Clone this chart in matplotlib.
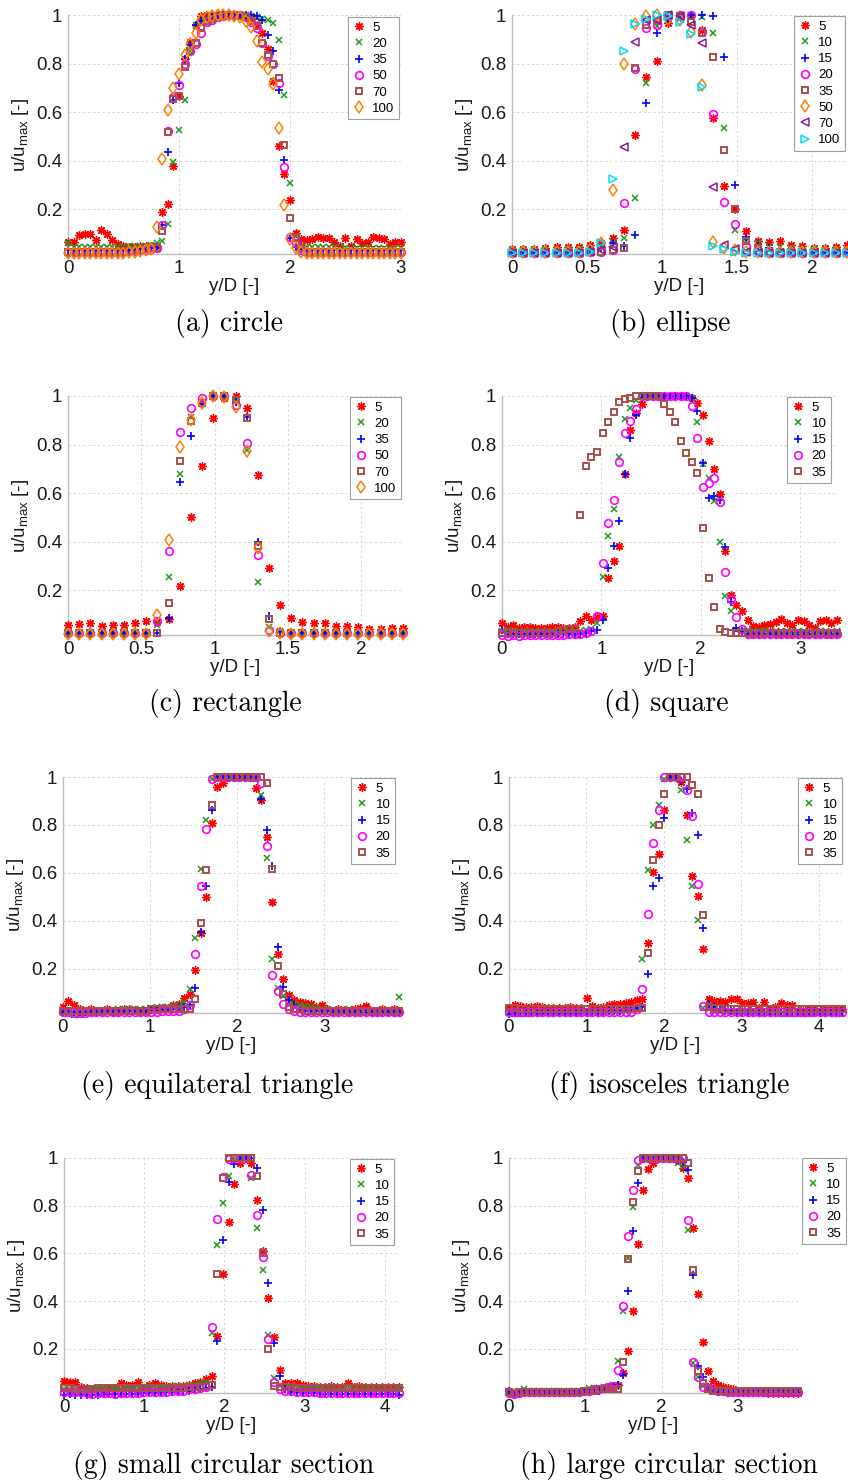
"""Normalised velocity profiles u/u_max across y/D for eight cross-sections."""

import matplotlib
matplotlib.use("Agg")
import matplotlib.pyplot as plt
from matplotlib.ticker import FuncFormatter

plt.rcParams['font.family'] = ['Liberation Sans', 'DejaVu Sans']
plt.rcParams['mathtext.default'] = 'regular'

# ---------------- (a) circle ----------------
circle_x = [0.0, 0.05, 0.1, 0.15, 0.2, 0.25, 0.3, 0.35, 0.4, 0.45, 0.5, 0.55, 0.6, 0.65, 0.7, 0.75,
            0.8, 0.85, 0.9, 0.95, 1.0, 1.05, 1.1, 1.15, 1.2, 1.25, 1.3, 1.35, 1.4, 1.45, 1.5, 1.55,
            1.6, 1.65, 1.7, 1.75, 1.8, 1.85, 1.9, 1.95, 2.0, 2.05, 2.1, 2.15, 2.2, 2.25, 2.3, 2.35,
            2.4, 2.45, 2.5, 2.55, 2.6, 2.65, 2.7, 2.75, 2.8, 2.85, 2.9, 2.95, 3.0]
circle_labels = ['5', '20', '35', '50', '70', '100']
circle_5 = [0.064, 0.064, 0.093, 0.099, 0.096, 0.071, 0.112, 0.097, 0.074, 0.056, 0.046,
            0.045, 0.045, 0.046, 0.047, 0.048, 0.05,
            0.19, 0.222, 0.376, 0.668, 0.82, 0.89, 0.96, 0.996,
            0.998, 1.0, 1.0, 1.0, 1.0, 1.0, 1.0, 0.995,
            0.985, 0.96, 0.925, 0.86, 0.73, 0.46, 0.344, 0.238, 0.10, 0.077,
            0.074, 0.078, 0.085, 0.083, 0.083, 0.064, 0.05, 0.083, 0.05, 0.077, 0.06, 0.063,
            0.085, 0.08, 0.077, 0.056, 0.064, 0.064]
circle_20 = [0.06, 0.045, 0.045, 0.045, 0.045, 0.045, 0.045, 0.045, 0.045, 0.045, 0.045,
             0.047, 0.048, 0.05, 0.05, 0.052, 0.06,
             0.07, 0.14, 0.393, 0.525, 0.65, 0.85, 0.96, 0.98,
             0.99, 0.995, 1.0, 1.0, 1.0, 1.0, 1.0, 1.0,
             0.995, 0.99, 0.985, 0.98, 0.965, 0.895, 0.67, 0.308, 0.09, 0.05,
             0.045, 0.045, 0.045, 0.045, 0.045, 0.045, 0.045, 0.04, 0.04, 0.04, 0.04, 0.04,
             0.04, 0.04, 0.04, 0.04, 0.04, 0.04]
circle_35 = [0.03, 0.03, 0.03, 0.03, 0.03, 0.03, 0.03, 0.03, 0.03, 0.03, 0.03,
             0.032, 0.033, 0.035, 0.035, 0.038, 0.04,
             0.135, 0.437, 0.65, 0.72, 0.82, 0.875, 0.96, 0.975,
             0.985, 0.99, 0.995, 1.0, 1.0, 1.0, 1.0, 1.0,
             0.998, 0.995, 0.98, 0.917, 0.85, 0.69, 0.403, 0.08, 0.045, 0.035,
             0.03, 0.03, 0.03, 0.03, 0.03, 0.03, 0.03, 0.03, 0.03, 0.03, 0.03, 0.03,
             0.03, 0.03, 0.03, 0.03, 0.03, 0.03]
circle_50 = [0.025, 0.025, 0.025, 0.025, 0.025, 0.025, 0.025, 0.025, 0.025, 0.025, 0.025,
             0.027, 0.028, 0.03, 0.032, 0.035, 0.04,
             0.135, 0.52, 0.66, 0.71, 0.80, 0.85, 0.88, 0.925,
             0.97, 0.98, 0.99, 0.995, 1.0, 1.0, 1.0, 0.99,
             0.97, 0.945, 0.885, 0.83, 0.80, 0.72, 0.373, 0.085, 0.06, 0.03,
             0.025, 0.025, 0.025, 0.025, 0.025, 0.025, 0.025, 0.025, 0.025, 0.025, 0.025, 0.025,
             0.025, 0.025, 0.025, 0.025, 0.025, 0.025]
circle_70 = [0.025, 0.025, 0.025, 0.025, 0.025, 0.025, 0.025, 0.025, 0.025, 0.025, 0.025,
             0.027, 0.03, 0.032, 0.035, 0.038, 0.04,
             0.11, 0.517, 0.655, 0.668, 0.785, 0.852, 0.885, 0.945,
             0.975, 0.985, 0.99, 0.995, 1.0, 1.0, 0.995, 0.99,
             0.975, 0.955, 0.885, 0.835, 0.80, 0.74, 0.463, 0.163, 0.08, 0.04,
             0.025, 0.025, 0.025, 0.025, 0.025, 0.025, 0.025, 0.025, 0.025, 0.025, 0.025, 0.025,
             0.025, 0.025, 0.025, 0.025, 0.025, 0.025]
circle_100 = [0.02, 0.02, 0.02, 0.02, 0.02, 0.02, 0.02, 0.02, 0.02, 0.02, 0.02,
              0.022, 0.025, 0.027, 0.03, 0.035,
              0.125, 0.405, 0.61, 0.70, 0.757, 0.835, 0.88, 0.925, 0.98,
              0.99, 0.995, 1.0, 1.0, 1.0, 0.995, 0.99, 0.975,
              0.95, 0.894, 0.807, 0.778, 0.715, 0.534, 0.215, 0.075, 0.04, 0.025,
              0.02, 0.02, 0.02, 0.02, 0.02, 0.02, 0.02, 0.02, 0.02, 0.02, 0.02, 0.02,
              0.02, 0.02, 0.02, 0.02, 0.02, 0.02]

# ---------------- (b) ellipse ----------------
ellipse_x = [0.0, 0.074, 0.149, 0.223, 0.298, 0.372, 0.446, 0.521, 0.595, 0.670, 0.744,
             0.818, 0.893, 0.967, 1.042, 1.116, 1.190, 1.265, 1.339, 1.414, 1.488, 1.562,
             1.637, 1.711, 1.786, 1.860, 1.934, 2.009, 2.083, 2.158, 2.232]
ellipse_labels = ['5', '10', '15', '20', '35', '50', '70', '100']
ellipse_5 = [0.035, 0.037, 0.037, 0.04, 0.042, 0.043, 0.045, 0.053, 0.06,
             0.083, 0.115, 0.505, 0.745, 0.812, 0.966, 0.99, 1.0, 0.938, 0.575, 0.296, 0.2, 0.108, 0.07,
             0.063, 0.067, 0.053, 0.046, 0.04, 0.04, 0.044, 0.053]
ellipse_10 = [0.03, 0.03, 0.03, 0.03, 0.03, 0.032, 0.035, 0.04, 0.045,
              0.064, 0.08, 0.245, 0.72, 0.955, 0.98, 0.99, 1.0, 0.99, 0.925, 0.536, 0.115, 0.068, 0.06,
              0.05, 0.045, 0.04, 0.035, 0.035, 0.03, 0.03, 0.03]
ellipse_15 = [0.025, 0.025, 0.025, 0.025, 0.025, 0.025, 0.025, 0.03, 0.04,
              0.06, 0.05, 0.094, 0.636, 0.925, 0.985, 1.0, 1.0, 1.0, 0.995, 0.826, 0.30, 0.085, 0.05,
              0.04, 0.035, 0.03, 0.03, 0.025, 0.025, 0.025, 0.025]
ellipse_20 = [0.02, 0.02, 0.02, 0.02, 0.02, 0.02, 0.02, 0.022, 0.025,
              0.03, 0.225, 0.776, 0.945, 0.96, 1.0, 1.0, 0.998, 0.93, 0.59, 0.228, 0.14, 0.05, 0.03,
              0.02, 0.02, 0.02, 0.02, 0.02, 0.02, 0.02, 0.02]
ellipse_35 = [0.02, 0.02, 0.02, 0.02, 0.02, 0.02, 0.02, 0.022, 0.025,
              0.033, 0.04, 0.78, 0.96, 0.975, 1.0, 0.995, 0.97, 0.925, 0.826, 0.444, 0.2, 0.07, 0.04,
              0.025, 0.025, 0.025, 0.025, 0.025, 0.025, 0.025, 0.025]
ellipse_50 = [0.025, 0.025, 0.025, 0.025, 0.025, 0.025, 0.025, 0.03, 0.06,
              0.277, 0.797, 0.963, 0.995, 1.0, 0.985, 0.98, 0.93, 0.712, 0.063, 0.04, 0.03, 0.025, 0.025,
              0.025, 0.025, 0.025, 0.025, 0.025, 0.025, 0.025, 0.025]
ellipse_70 = [0.02, 0.02, 0.02, 0.02, 0.02, 0.02, 0.02, 0.022, 0.03,
              0.045, 0.458, 0.887, 0.978, 0.98, 1.0, 0.995, 0.96, 0.883, 0.29, 0.053, 0.035, 0.025, 0.02,
              0.02, 0.02, 0.02, 0.02, 0.02, 0.02, 0.02, 0.02]
ellipse_100 = [0.02, 0.02, 0.02, 0.02, 0.02, 0.02, 0.02, 0.025, 0.06,
               0.323, 0.85, 0.963, 0.985, 1.0, 0.995, 0.97, 0.92, 0.702, 0.05, 0.035, 0.025, 0.02, 0.02,
               0.02, 0.02, 0.02, 0.02, 0.02, 0.02, 0.02, 0.02]

# ---------------- (c) rectangle ----------------
rect_x = [0.0, 0.076, 0.152, 0.229, 0.305, 0.381, 0.457, 0.533, 0.610, 0.686, 0.762,
          0.838, 0.914, 0.991, 1.067, 1.143, 1.219, 1.295, 1.372, 1.448, 1.524, 1.600,
          1.676, 1.753, 1.829, 1.905, 1.981, 2.057, 2.134, 2.210, 2.286]
rect_labels = ['5', '20', '35', '50', '70', '100']
rect_5 = [0.056, 0.06, 0.064, 0.054, 0.058, 0.058, 0.066, 0.072,
          0.07, 0.082, 0.216, 0.50, 0.712, 0.908, 0.99, 1.0, 0.95, 0.673, 0.292, 0.137, 0.086, 0.068,
          0.066, 0.063, 0.052, 0.052, 0.048, 0.041, 0.041, 0.045, 0.045]
rect_20 = [0.025, 0.025, 0.025, 0.025, 0.025, 0.025, 0.025, 0.025,
           0.055, 0.252, 0.68, 0.912, 0.968, 1.0, 1.0, 0.984, 0.778, 0.233, 0.05, 0.03, 0.025, 0.025,
           0.025, 0.025, 0.025, 0.025, 0.025, 0.025, 0.025, 0.025, 0.025]
rect_35 = [0.022, 0.022, 0.022, 0.022, 0.022, 0.022, 0.022, 0.022,
           0.025, 0.086, 0.644, 0.836, 0.968, 1.0, 1.0, 0.977, 0.915, 0.40, 0.095, 0.03, 0.022, 0.022,
           0.022, 0.022, 0.022, 0.022, 0.022, 0.022, 0.022, 0.022, 0.022]
rect_50 = [0.022, 0.022, 0.022, 0.022, 0.022, 0.022, 0.022, 0.022,
           0.072, 0.36, 0.853, 0.952, 0.993, 1.0, 1.0, 0.963, 0.805, 0.344, 0.035, 0.025, 0.022, 0.022,
           0.022, 0.022, 0.022, 0.022, 0.022, 0.022, 0.022, 0.022, 0.022]
rect_70 = [0.022, 0.022, 0.022, 0.022, 0.022, 0.022, 0.022, 0.022,
           0.024, 0.145, 0.733, 0.899, 0.97, 1.0, 1.0, 0.984, 0.908, 0.381, 0.079, 0.025, 0.022, 0.022,
           0.022, 0.022, 0.022, 0.022, 0.022, 0.022, 0.022, 0.022, 0.022]
rect_100 = [0.02, 0.02, 0.02, 0.02, 0.02, 0.02, 0.02, 0.02,
            0.096, 0.408, 0.788, 0.90, 0.97, 1.0, 0.997, 0.953, 0.774, 0.375, 0.03, 0.022, 0.02, 0.02,
            0.02, 0.02, 0.02, 0.02, 0.02, 0.02, 0.02, 0.02, 0.02]

# ---------------- (d) square ----------------
square_x = [0.0, 0.056, 0.112, 0.169, 0.225, 0.281, 0.337, 0.393, 0.450, 0.506, 0.562,
            0.618, 0.674, 0.731, 0.787, 0.843, 0.899, 0.955, 1.012, 1.068, 1.124, 1.180,
            1.236, 1.293, 1.349, 1.405, 1.461, 1.517, 1.574, 1.630, 1.686, 1.742, 1.798,
            1.855, 1.911, 1.967, 2.023, 2.079, 2.136, 2.192, 2.248, 2.304, 2.360, 2.417,
            2.473, 2.529, 2.585, 2.641, 2.698, 2.754, 2.810, 2.866, 2.922, 2.979, 3.035,
            3.091, 3.147, 3.203, 3.260, 3.316, 3.372]
square_labels = ['5', '10', '15', '20', '35']
square_5 = [0.063, 0.046, 0.056, 0.044, 0.046, 0.05, 0.045, 0.045, 0.045, 0.047, 0.047, 0.045, 0.045,
            0.05, 0.074, 0.094, 0.077, 0.09, 0.092, 0.248, 0.318, 0.383, 0.68, 0.86, 0.93, 0.966,
            1.0, 1.0, 1.0, 1.0, 1.0, 1.0, 1.0, 1.0, 0.99,
            0.973, 0.92, 0.815, 0.70, 0.595, 0.362, 0.18, 0.138, 0.115,
            0.077, 0.053, 0.046, 0.056, 0.06, 0.067, 0.083, 0.063, 0.056, 0.077, 0.074, 0.056,
            0.042, 0.071, 0.078, 0.064, 0.078]
square_10 = [0.03, 0.035, 0.03, 0.03, 0.03, 0.03, 0.03, 0.03, 0.03, 0.03, 0.03, 0.03, 0.03,
             0.03, 0.03, 0.035, 0.04, 0.065, 0.252, 0.424, 0.536, 0.749, 0.904, 0.952, 0.982, 1.0,
             1.0, 1.0, 1.0, 1.0, 1.0, 1.0, 1.0, 1.0, 0.99,
             0.894, 0.72, 0.664, 0.568, 0.40, 0.174, 0.115, 0.035, 0.03,
             0.035, 0.03, 0.03, 0.035, 0.03, 0.03, 0.03, 0.03, 0.03, 0.03, 0.03, 0.025,
             0.03, 0.03, 0.03, 0.025, 0.03]
square_15 = [0.035, 0.02, 0.02, 0.02, 0.02, 0.02, 0.02, 0.02, 0.02, 0.02, 0.02, 0.02, 0.02,
             0.02, 0.02, 0.025, 0.03, 0.035, 0.078, 0.29, 0.383, 0.483, 0.68, 0.826, 0.92, 0.99,
             1.0, 1.0, 1.0, 1.0, 1.0, 1.0, 1.0, 1.0, 0.99,
             0.938, 0.725, 0.58, 0.588, 0.57, 0.376, 0.15, 0.045, 0.03,
             0.02, 0.02, 0.02, 0.02, 0.02, 0.02, 0.02, 0.02, 0.02, 0.015, 0.02, 0.02,
             0.015, 0.02, 0.02, 0.02, 0.02]
square_20 = [0.015, 0.01, 0.015, 0.012, 0.015, 0.015, 0.015, 0.015, 0.015, 0.015, 0.015, 0.015, 0.02,
             0.02, 0.02, 0.025, 0.03, 0.092, 0.31, 0.478, 0.572, 0.728, 0.846, 0.897, 0.948, 1.0,
             1.0, 1.0, 1.0, 1.0, 1.0, 1.0, 1.0, 1.0, 0.96,
             0.826, 0.627, 0.64, 0.661, 0.565, 0.273, 0.163, 0.09, 0.04,
             0.02, 0.02, 0.02, 0.02, 0.02, 0.02, 0.02, 0.02, 0.02, 0.02, 0.02, 0.02,
             0.02, 0.02, 0.02, 0.02, 0.02]
square_35 = [0.025, 0.025, 0.025, 0.025, 0.025, 0.025, 0.025, 0.025, 0.025, 0.025, 0.03, 0.035, 0.04,
             0.04, 0.509, 0.712, 0.749, 0.77, 0.846, 0.894, 0.936, 0.975, 0.989, 0.993, 0.998, 1.0,
             1.0, 1.0, 1.0, 0.968, 0.936, 0.894, 0.815, 0.764, 0.73,
             0.682, 0.454, 0.248, 0.131, 0.04, 0.026, 0.025, 0.025, 0.025,
             0.025, 0.025, 0.025, 0.025, 0.025, 0.025, 0.025, 0.025, 0.025, 0.025, 0.025, 0.025,
             0.025, 0.025, 0.025, 0.025, 0.025]

# ---------------- (e) equilateral triangle ----------------
tri_eq_x = [0.0, 0.063, 0.127, 0.190, 0.253, 0.317, 0.380, 0.443, 0.506, 0.570, 0.633,
            0.696, 0.760, 0.823, 0.886, 0.950, 1.013, 1.076, 1.139, 1.203, 1.266, 1.329,
            1.393, 1.456, 1.519, 1.583, 1.646, 1.709, 1.772, 1.836, 1.899, 1.962, 2.026,
            2.089, 2.152, 2.216, 2.279, 2.342, 2.405, 2.469, 2.532, 2.595, 2.659, 2.722,
            2.785, 2.849, 2.912, 2.975, 3.038, 3.102, 3.165, 3.228, 3.292, 3.355, 3.418,
            3.482, 3.545, 3.608, 3.671, 3.735, 3.798, 3.861]
tri_eq_labels = ['5', '10', '15', '20', '35']
tri_eq_5 = [0.04, 0.066, 0.05, 0.03, 0.025, 0.03, 0.025, 0.025, 0.03, 0.025, 0.025, 0.03, 0.03,
            0.028, 0.025, 0.025, 0.03, 0.03, 0.035, 0.035,
            0.05, 0.052, 0.077, 0.093, 0.194, 0.347, 0.50, 0.81, 0.96, 0.975,
            1.0, 1.0, 1.0, 1.0, 1.0,
            0.955, 0.906, 0.748, 0.478, 0.262, 0.158, 0.09, 0.07, 0.062, 0.056, 0.052, 0.04, 0.05,
            0.03, 0.025, 0.03, 0.028, 0.025, 0.03, 0.035, 0.045, 0.02, 0.025, 0.03, 0.025, 0.03, 0.025]
tri_eq_10 = [0.02, 0.01, 0.008, 0.008, 0.01, 0.015, 0.02, 0.025, 0.025, 0.025, 0.03, 0.03, 0.03,
             0.03, 0.03, 0.03, 0.035, 0.04, 0.04, 0.04,
             0.045, 0.05, 0.06, 0.115, 0.33, 0.618, 0.82, 0.99, 1.0, 1.0,
             1.0, 1.0, 1.0, 1.0, 1.0,
             0.99, 0.925, 0.66, 0.242, 0.12, 0.087, 0.062, 0.052, 0.048, 0.045, 0.038, 0.035, 0.03,
             0.03, 0.025, 0.025, 0.025, 0.03, 0.025, 0.02, 0.02, 0.025, 0.02, 0.025, 0.02, 0.025, 0.08]
tri_eq_15 = [0.02, 0.025, 0.02, 0.02, 0.02, 0.02, 0.02, 0.025, 0.025, 0.02, 0.025, 0.025, 0.025,
             0.025, 0.025, 0.025, 0.03, 0.03, 0.03, 0.03,
             0.03, 0.035, 0.04, 0.05, 0.12, 0.354, 0.543, 0.862, 1.0, 1.0,
             1.0, 1.0, 1.0, 1.0, 1.0,
             1.0, 0.907, 0.78, 0.627, 0.29, 0.125, 0.07, 0.048, 0.03, 0.025, 0.025, 0.025, 0.025,
             0.025, 0.02, 0.02, 0.025, 0.02, 0.02, 0.02, 0.015, 0.02, 0.015, 0.02, 0.02, 0.02, 0.02]
tri_eq_20 = [0.02, 0.02, 0.015, 0.015, 0.015, 0.02, 0.02, 0.02, 0.02, 0.02, 0.02, 0.02, 0.02,
             0.02, 0.02, 0.02, 0.02, 0.02, 0.025, 0.025,
             0.025, 0.025, 0.03, 0.05, 0.263, 0.547, 0.785, 0.99, 1.0, 1.0,
             1.0, 1.0, 1.0, 1.0, 1.0,
             1.0, 0.975, 0.712, 0.175, 0.105, 0.052, 0.03, 0.025, 0.02, 0.02, 0.02, 0.02, 0.02,
             0.02, 0.02, 0.02, 0.02, 0.02, 0.02, 0.02, 0.02, 0.02, 0.02, 0.02, 0.02, 0.02, 0.02]
tri_eq_35 = [0.025, 0.025, 0.025, 0.025, 0.025, 0.025, 0.025, 0.025, 0.025, 0.025, 0.025, 0.025, 0.025,
             0.025, 0.025, 0.025, 0.03, 0.03, 0.03, 0.03,
             0.03, 0.03, 0.03, 0.03, 0.075, 0.39, 0.61, 0.885, 1.0, 1.0,
             1.0, 1.0, 1.0, 1.0, 1.0,
             1.0, 1.0, 0.976, 0.615, 0.21, 0.093, 0.038, 0.03, 0.03, 0.025, 0.025, 0.025, 0.025,
             0.025, 0.025, 0.025, 0.025, 0.025, 0.025, 0.025, 0.025, 0.025, 0.025, 0.025, 0.025, 0.025, 0.025]

# ---------------- (f) isosceles triangle ----------------
tri_iso_x = [0.0, 0.072, 0.143, 0.215, 0.287, 0.359, 0.430, 0.502, 0.574, 0.645, 0.717,
             0.789, 0.860, 0.932, 1.004, 1.076, 1.147, 1.219, 1.291, 1.362, 1.434, 1.506,
             1.577, 1.649, 1.721, 1.793, 1.864, 1.936, 2.008, 2.079, 2.151, 2.223, 2.294,
             2.366, 2.438, 2.510, 2.581, 2.653, 2.725, 2.796, 2.868, 2.940, 3.011, 3.083,
             3.155, 3.227, 3.298, 3.370, 3.442, 3.513, 3.585, 3.657, 3.728, 3.800, 3.872,
             3.944, 4.015, 4.087, 4.159, 4.230, 4.302]
tri_iso_labels = ['5', '10', '15', '20', '35']
tri_iso_5 = [0.035, 0.05, 0.045, 0.04, 0.04, 0.045, 0.04, 0.035, 0.035, 0.035, 0.035, 0.04, 0.035, 0.035,
             0.076,
             0.045, 0.035, 0.04, 0.05, 0.052, 0.052, 0.055, 0.06,
             0.07, 0.073, 0.308, 0.605, 0.68, 0.864, 1.0, 1.0, 0.98, 0.84, 0.585, 0.502, 0.284,
             0.073, 0.066, 0.066, 0.06, 0.073, 0.073, 0.055, 0.055, 0.06, 0.035, 0.062, 0.03,
             0.04, 0.055, 0.05, 0.05, 0.025, 0.025, 0.03, 0.03, 0.025, 0.03, 0.03, 0.03, 0.03]
tri_iso_10 = [0.015, 0.01, 0.01, 0.012, 0.012, 0.015, 0.015, 0.015, 0.015, 0.015, 0.015, 0.015,
              0.015, 0.02, 0.02, 0.02, 0.02, 0.02, 0.025, 0.025, 0.025, 0.03, 0.03,
              0.035, 0.24, 0.612, 0.80, 0.882, 0.99, 1.0, 1.0, 0.947, 0.737, 0.543, 0.402, 0.035,
              0.03, 0.025, 0.025, 0.025, 0.02, 0.02, 0.02, 0.02, 0.02, 0.015, 0.015, 0.015,
              0.015, 0.01, 0.01, 0.012, 0.01, 0.01, 0.012, 0.015, 0.015, 0.015, 0.015, 0.015, 0.01]
tri_iso_15 = [0.01, 0.015, 0.015, 0.015, 0.015, 0.015, 0.015, 0.015, 0.015, 0.015, 0.015, 0.015,
              0.015, 0.02, 0.02, 0.02, 0.02, 0.02, 0.025, 0.025, 0.025, 0.03, 0.03,
              0.035, 0.04, 0.176, 0.543, 0.58, 0.83, 1.0, 1.0, 0.985, 0.95, 0.85, 0.757, 0.37,
              0.052, 0.04, 0.03, 0.025, 0.025, 0.02, 0.02, 0.02, 0.02, 0.02, 0.02, 0.02,
              0.02, 0.02, 0.02, 0.02, 0.02, 0.02, 0.02, 0.02, 0.02, 0.02, 0.02, 0.02, 0.02]
tri_iso_20 = [0.02, 0.02, 0.02, 0.02, 0.02, 0.02, 0.02, 0.02, 0.02, 0.02, 0.02, 0.02,
              0.02, 0.02, 0.02, 0.02, 0.02, 0.02, 0.02, 0.02, 0.02, 0.02, 0.02,
              0.03, 0.117, 0.43, 0.723, 0.862, 0.998, 1.0, 1.0, 1.0, 0.947, 0.837, 0.555, 0.043,
              0.02, 0.02, 0.02, 0.02, 0.02, 0.02, 0.02, 0.02, 0.02, 0.02, 0.02, 0.02,
              0.02, 0.02, 0.02, 0.02, 0.02, 0.02, 0.02, 0.02, 0.02, 0.02, 0.02, 0.02, 0.02]
tri_iso_35 = [0.035, 0.035, 0.03, 0.03, 0.03, 0.03, 0.03, 0.03, 0.03, 0.03, 0.03, 0.03,
              0.03, 0.03, 0.03, 0.03, 0.03, 0.03, 0.03, 0.03, 0.03, 0.03, 0.03,
              0.035, 0.035, 0.264, 0.654, 0.80, 0.93, 1.0, 1.0, 1.0, 1.0, 0.965, 0.93, 0.425,
              0.04, 0.035, 0.035, 0.03, 0.03, 0.03, 0.03, 0.03, 0.03, 0.03, 0.03, 0.03,
              0.03, 0.03, 0.03, 0.03, 0.03, 0.03, 0.03, 0.03, 0.03, 0.03, 0.03, 0.03, 0.03]

# ---------------- (g) small circular section ----------------
circ_s_x = [0.0, 0.071, 0.142, 0.212, 0.283, 0.354, 0.425, 0.496, 0.566, 0.637, 0.708,
            0.779, 0.850, 0.920, 0.991, 1.062, 1.133, 1.204, 1.274, 1.345, 1.416, 1.487,
            1.558, 1.628, 1.699, 1.770, 1.841, 1.912, 1.982, 2.053, 2.124, 2.195, 2.266,
            2.336, 2.407, 2.478, 2.549, 2.620, 2.690, 2.761, 2.832, 2.903, 2.974, 3.044,
            3.115, 3.186, 3.257, 3.328, 3.398, 3.469, 3.540, 3.611, 3.682, 3.752, 3.823,
            3.894, 3.965, 4.036, 4.106, 4.177]
circ_s_labels = ['5', '10', '15', '20', '35']
circ_s_5 = [0.067, 0.063, 0.06, 0.042, 0.035, 0.03, 0.03, 0.03, 0.035, 0.035, 0.056, 0.047, 0.047,
            0.06, 0.035, 0.05, 0.055, 0.047, 0.045, 0.045, 0.045, 0.045, 0.05, 0.055, 0.06,
            0.073, 0.085, 0.255, 0.515, 0.73, 0.89, 0.98, 1.0, 0.98, 0.825, 0.61, 0.415, 0.25, 0.11,
            0.056, 0.056, 0.056, 0.05, 0.045, 0.045, 0.04, 0.04, 0.045, 0.04, 0.04, 0.055,
            0.04, 0.045, 0.04, 0.04, 0.04, 0.04, 0.04, 0.04, 0.04]
circ_s_10 = [0.03, 0.03, 0.03, 0.025, 0.03, 0.03, 0.035, 0.035, 0.03, 0.035, 0.03, 0.035, 0.035,
             0.035, 0.035, 0.04, 0.04, 0.04, 0.04, 0.045, 0.045, 0.045, 0.05, 0.05, 0.055, 0.06,
             0.265, 0.637, 0.81, 0.925, 1.0, 1.0, 1.0, 0.915, 0.708, 0.53, 0.258, 0.077, 0.045,
             0.04, 0.04, 0.035, 0.035, 0.035, 0.035, 0.035, 0.03, 0.03, 0.03, 0.03, 0.03,
             0.03, 0.03, 0.03, 0.03, 0.03, 0.03, 0.03, 0.03, 0.035]
circ_s_15 = [0.005, 0.01, 0.008, 0.008, 0.008, 0.005, 0.008, 0.01, 0.01, 0.01, 0.01, 0.01, 0.012,
             0.012, 0.015, 0.015, 0.015, 0.018, 0.02, 0.02, 0.022, 0.025, 0.025, 0.028, 0.03, 0.035, 0.04,
             0.233, 0.655, 0.9, 0.975, 1.0, 1.0, 1.0, 0.96, 0.784, 0.474, 0.226, 0.087,
             0.03, 0.02, 0.02, 0.015, 0.015, 0.015, 0.012, 0.012, 0.012, 0.01, 0.01, 0.01,
             0.01, 0.01, 0.01, 0.01, 0.01, 0.01, 0.01, 0.01, 0.008]
circ_s_20 = [0.02, 0.02, 0.02, 0.02, 0.015, 0.01, 0.015, 0.015, 0.015, 0.01, 0.015, 0.015, 0.015,
             0.015, 0.02, 0.02, 0.02, 0.02, 0.02, 0.025, 0.025, 0.025, 0.03, 0.03, 0.035, 0.04,
             0.29, 0.743, 0.92, 0.997, 1.0, 1.0, 1.0, 0.93, 0.76, 0.586, 0.242, 0.06, 0.03,
             0.025, 0.025, 0.02, 0.02, 0.02, 0.02, 0.015, 0.015, 0.015, 0.015, 0.015, 0.015,
             0.015, 0.015, 0.015, 0.015, 0.015, 0.015, 0.015, 0.015, 0.015]
circ_s_35 = [0.035, 0.035, 0.03, 0.03, 0.03, 0.03, 0.035, 0.035, 0.035, 0.035, 0.035, 0.035, 0.035,
             0.035, 0.035, 0.035, 0.035, 0.035, 0.035, 0.035, 0.035, 0.035, 0.04, 0.04, 0.04, 0.045, 0.05,
             0.512, 0.918, 1.0, 1.0, 1.0, 1.0, 1.0, 0.923, 0.6, 0.2, 0.045, 0.04,
             0.04, 0.04, 0.035, 0.035, 0.035, 0.035, 0.035, 0.035, 0.035, 0.035, 0.035, 0.035,
             0.035, 0.035, 0.035, 0.035, 0.035, 0.035, 0.035, 0.035, 0.035]

# ---------------- (h) large circular section ----------------
circ_l_x = [0.0, 0.065, 0.130, 0.196, 0.261, 0.326, 0.391, 0.456, 0.522, 0.587, 0.652,
            0.717, 0.782, 0.848, 0.913, 0.978, 1.043, 1.108, 1.174, 1.239, 1.304, 1.369,
            1.434, 1.500, 1.565, 1.630, 1.695, 1.760, 1.826, 1.891, 1.956, 2.021, 2.086,
            2.152, 2.217, 2.282, 2.347, 2.412, 2.478, 2.543, 2.608, 2.673, 2.738, 2.804,
            2.869, 2.934, 2.999, 3.064, 3.130, 3.195, 3.260, 3.325, 3.390, 3.456, 3.521,
            3.586, 3.651, 3.716, 3.782]
circ_l_labels = ['5', '10', '15', '20', '35']
circ_l_5 = [0.02, 0.015, 0.02, 0.02, 0.02, 0.02, 0.02, 0.02, 0.02, 0.02, 0.02, 0.02, 0.02, 0.02, 0.02,
            0.025, 0.025, 0.03, 0.03, 0.035, 0.04, 0.04,
            0.047, 0.1, 0.193, 0.36, 0.64, 0.867, 0.954, 0.978,
            1.0, 1.0, 1.0, 1.0, 0.99,
            0.957, 0.915, 0.705, 0.428, 0.228, 0.107, 0.065,
            0.05, 0.04, 0.035, 0.03, 0.025, 0.025, 0.02, 0.02, 0.02, 0.02, 0.015, 0.015,
            0.015, 0.015, 0.015, 0.015, 0.015]
circ_l_10 = [0.025, 0.02, 0.025, 0.03, 0.025, 0.025, 0.025, 0.025, 0.025, 0.025, 0.025, 0.025,
             0.025, 0.025, 0.025, 0.025, 0.035, 0.035, 0.035, 0.04, 0.045, 0.05,
             0.148, 0.36, 0.58, 0.795, 0.97, 1.0, 1.0, 1.0,
             1.0, 1.0, 1.0, 0.99, 0.98,
             0.963, 0.70, 0.14, 0.08, 0.045, 0.04, 0.035,
             0.03, 0.03, 0.025, 0.025, 0.025, 0.025, 0.025, 0.025, 0.025, 0.025, 0.025, 0.025,
             0.025, 0.025, 0.025, 0.025, 0.025]
circ_l_15 = [0.025, 0.01, 0.015, 0.015, 0.015, 0.015, 0.015, 0.015, 0.015, 0.015, 0.015, 0.015,
             0.015, 0.015, 0.015, 0.02, 0.02, 0.025, 0.025, 0.03, 0.035, 0.04,
             0.05, 0.09, 0.444, 0.692, 0.895, 1.0, 1.0, 1.0,
             1.0, 1.0, 1.0, 1.0, 0.99,
             0.985, 0.95, 0.508, 0.128, 0.08, 0.04, 0.03,
             0.02, 0.02, 0.02, 0.02, 0.02, 0.02, 0.02, 0.02, 0.02, 0.02, 0.015, 0.015,
             0.015, 0.015, 0.015, 0.015, 0.015]
circ_l_20 = [0.015, 0.01, 0.015, 0.02, 0.02, 0.02, 0.02, 0.02, 0.02, 0.02, 0.02, 0.02,
             0.02, 0.02, 0.02, 0.025, 0.025, 0.03, 0.03, 0.035, 0.04, 0.045,
             0.11, 0.378, 0.672, 0.865, 0.993, 1.0, 1.0, 1.0,
             1.0, 1.0, 1.0, 1.0, 1.0,
             1.0, 0.74, 0.145, 0.08, 0.04, 0.035, 0.03,
             0.025, 0.025, 0.02, 0.02, 0.02, 0.02, 0.02, 0.02, 0.02, 0.02, 0.02, 0.02,
             0.02, 0.02, 0.02, 0.02, 0.02]
circ_l_35 = [0.02, 0.015, 0.02, 0.02, 0.02, 0.02, 0.02, 0.02, 0.02, 0.02, 0.02, 0.02,
             0.02, 0.02, 0.02, 0.025, 0.025, 0.025, 0.03, 0.03, 0.03, 0.03,
             0.03, 0.145, 0.578, 0.815, 0.945, 1.0, 1.0, 1.0,
             1.0, 1.0, 1.0, 1.0, 1.0,
             1.0, 0.98, 0.532, 0.107, 0.055, 0.03, 0.025,
             0.025, 0.025, 0.025, 0.025, 0.025, 0.025, 0.025, 0.025, 0.025, 0.025, 0.025, 0.025,
             0.025, 0.025, 0.025, 0.025, 0.025]

# marker styles in legend order (MATLAB-like)
STYLES = [
    dict(marker=(8, 2, 0), ms=6.0, mew=1.0, color='#ff0000'),
    dict(marker='x', ms=4.2, mew=1.1, color='#1e9a1e'),
    dict(marker='+', ms=6.0, mew=1.2, color='#0000ff'),
    dict(marker='o', ms=5.5, mew=1.2, color='#ff00ff'),
    dict(marker='s', ms=5.0, mew=1.4, color='#a8504c'),
    dict(marker='d', ms=6.0, mew=1.1, color='#ff8000'),
    dict(marker='<', ms=5.5, mew=1.1, color='#8a1c96'),
    dict(marker='>', ms=5.5, mew=1.1, color='#00dcff'),
]

W, H = 848, 1483
fig = plt.figure(figsize=(W / 100, H / 100), dpi=100)

# pixel boxes: left, right, top, bottom ; legend anchor ; caption
panels = [
    dict(box=(68, 401, 15, 254), x=circle_x, ys=[circle_5, circle_20, circle_35, circle_50, circle_70, circle_100],
         labels=circle_labels, xmax=3.0, xticks=[0, 1, 2, 3], leg=(399, 17, 'in'), cap='(a) circle', cap_xy=(229, 323)),
    dict(box=(512, 847, 15, 254), x=ellipse_x, ys=[ellipse_5, ellipse_10, ellipse_15, ellipse_20, ellipse_35,
                                                   ellipse_50, ellipse_70, ellipse_100],
         labels=ellipse_labels, xmax=2.232, xticks=[0, 0.5, 1, 1.5, 2], leg=(845, 16, 'in'), cap='(b) ellipse', cap_xy=(670, 323)),
    dict(box=(68, 403, 396, 635), x=rect_x, ys=[rect_5, rect_20, rect_35, rect_50, rect_70, rect_100],
         labels=rect_labels, xmax=2.286, xticks=[0, 0.5, 1, 1.5, 2], leg=(401, 397, 'in'), cap='(c) rectangle', cap_xy=(225, 704)),
    dict(box=(502, 837, 396, 635), x=square_x, ys=[square_5, square_10, square_15, square_20, square_35],
         labels=square_labels, xmax=3.372, xticks=[0, 1, 2, 3], leg=(831, 397, 'in'), cap='(d) square', cap_xy=(666, 704)),
    dict(box=(63, 399, 777, 1013), x=tri_eq_x, ys=[tri_eq_5, tri_eq_10, tri_eq_15, tri_eq_20, tri_eq_35],
         labels=tri_eq_labels, xmax=3.861, xticks=[0, 1, 2, 3], leg=(395, 778, 'in'), cap='(e) equilateral triangle', cap_xy=(217, 1085)),
    dict(box=(509, 842, 777, 1013), x=tri_iso_x, ys=[tri_iso_5, tri_iso_10, tri_iso_15, tri_iso_20, tri_iso_35],
         labels=tri_iso_labels, xmax=4.302, xticks=[0, 1, 2, 3, 4], leg=(842, 778, 'in'), cap='(f) isosceles triangle', cap_xy=(669, 1085)),
    dict(box=(64, 399, 1158, 1393), x=circ_s_x, ys=[circ_s_5, circ_s_10, circ_s_15, circ_s_20, circ_s_35],
         labels=circ_s_labels, xmax=4.177, xticks=[0, 1, 2, 3, 4], leg=(394, 1159, 'in'), cap='(g) small circular section', cap_xy=(224, 1466)),
    dict(box=(509, 797.6, 1158, 1393), x=circ_l_x, ys=[circ_l_5, circ_l_10, circ_l_15, circ_l_20, circ_l_35],
         labels=circ_l_labels, xmax=3.782, xticks=[0, 1, 2, 3], leg=(802, 1158, 'out'), cap='(h) large circular section', cap_xy=(669, 1466)),
]

fmt = FuncFormatter(lambda v, p: '%g' % v)

for p in panels:
    left, right, top, bottom = p['box']
    ax = fig.add_axes([left / W, 1 - bottom / H, (right - left) / W, (bottom - top) / H])
    for k, (y, lab) in enumerate(zip(p['ys'], p['labels'])):
        st = STYLES[k]
        ax.plot(p['x'], y, ls='none', marker=st['marker'], ms=st['ms'], mew=st['mew'],
                mec=st['color'], mfc='none', label=lab, clip_on=False, zorder=3 + k)
    ax.set_xlim(0, p['xmax'])
    ax.set_ylim(0.015, 1.0)
    ax.set_xticks(p['xticks'])
    ax.set_yticks([0.2, 0.4, 0.6, 0.8, 1.0])
    ax.xaxis.set_major_formatter(fmt)
    ax.yaxis.set_major_formatter(fmt)
    ax.grid(True, ls=(0, (2.5, 2.5)), color='#d8d8d8', lw=0.7)
    ax.set_axisbelow(True)
    for s in ['top', 'right']:
        ax.spines[s].set_visible(False)
    for s in ['left', 'bottom']:
        ax.spines[s].set_color('#bdbdbd')
        ax.spines[s].set_linewidth(1.0)
    ax.tick_params(length=0, labelsize=13.5, labelcolor='#1a1a1a', pad=4)
    ax.set_xlabel('y/D [-]', fontsize=13.5, labelpad=1, color='#1a1a1a')
    ax.set_ylabel('u/u$_{max}$ [-]', fontsize=13.5, color='#1a1a1a')

    lx, ly, where = p['leg']
    loc = 'upper right' if where == 'in' else 'upper left'
    leg = ax.legend(loc=loc, bbox_to_anchor=(lx / W, 1 - ly / H), bbox_transform=fig.transFigure,
                    fontsize=9.5, frameon=True, fancybox=False, edgecolor='#a0a0a0', framealpha=1,
                    borderpad=0.35, labelspacing=0.3, handlelength=1.0, handletextpad=0.5,
                    borderaxespad=0, numpoints=1)
    leg.get_frame().set_linewidth(0.8)
    leg.set_zorder(20)

    cx, cy = p['cap_xy']
    fig.text(cx / W, 1 - cy / H, p['cap'], ha='center', va='center', family='cmr10', fontsize=20)

fig.savefig('out.png', dpi=100)
